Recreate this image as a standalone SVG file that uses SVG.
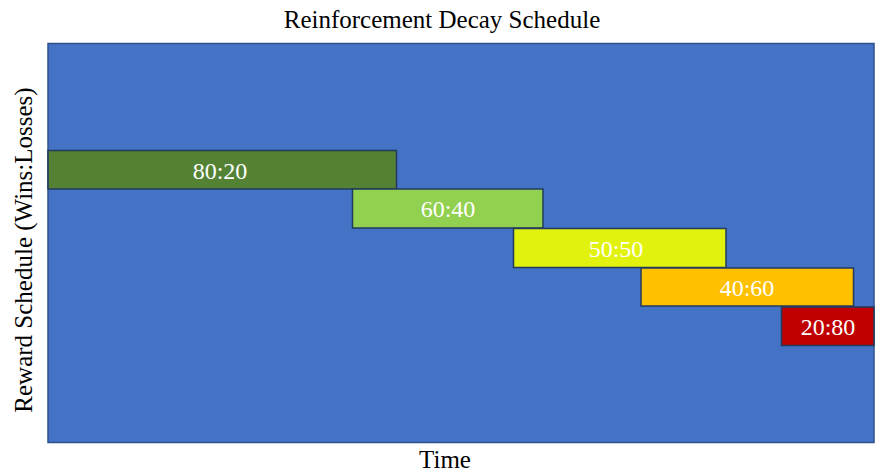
<svg xmlns="http://www.w3.org/2000/svg" width="875" height="473" viewBox="0 0 875 473">
<style>
text{font-family:"Liberation Serif","Times New Roman",serif;}
.t{font-size:25px;fill:#000;text-anchor:middle;}
.bar{stroke:#223A5E;stroke-width:1.5;}
.lbl{font-size:24px;fill:#fff;text-anchor:middle;}
</style>
<rect width="875" height="473" fill="#fff"/>
<text class="t" x="442" y="28" font-size="24">Reinforcement Decay Schedule</text>
<rect id="plot" x="48" y="43.5" width="826" height="399" fill="#4472C4" stroke="#2F528F" stroke-width="1.5"/>
<g id="n8020"><rect class="bar" x="48" y="150.5" width="348.5" height="38.5" fill="#548235"/><text class="lbl" x="220" y="178.5">80:20</text></g>
<g id="n6040"><rect class="bar" x="352.5" y="189" width="190.5" height="39" fill="#92D050"/><text class="lbl" x="448" y="217">60:40</text></g>
<g id="n5050"><rect class="bar" x="513.5" y="228.5" width="212.5" height="39" fill="#E2F20F"/><text class="lbl" x="616" y="257">50:50</text></g>
<g id="n4060"><rect class="bar" x="641" y="268" width="212.5" height="38" fill="#FFC000"/><text class="lbl" x="747" y="296">40:60</text></g>
<g id="n2080"><rect class="bar" x="781.5" y="307" width="92.5" height="38.5" fill="#C00000"/><text class="lbl" x="828" y="335">20:80</text></g>
<g id="connectors"></g>
<text class="t" x="445" y="468" font-size="26">Time</text>
<text class="t" transform="translate(32,250) rotate(-90)">Reward Schedule (Wins:Losses)</text>
</svg>
